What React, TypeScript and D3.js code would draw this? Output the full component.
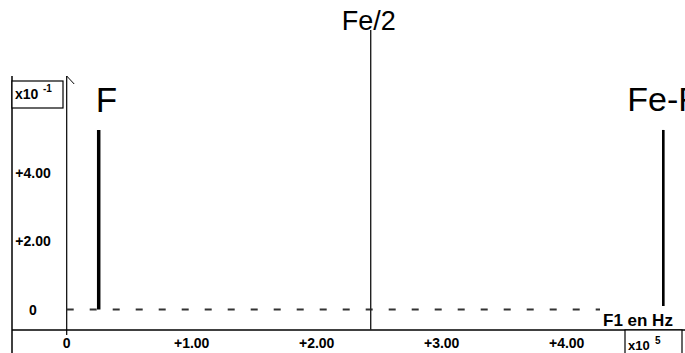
import React, { useRef, useEffect } from 'react';
import * as d3 from 'd3';

// spectre: raies F et Fe-F, repere Fe/2
const xTicks = [0, 1, 2, 3, 4];
const xTickLabels = ['0', '+1.00', '+2.00', '+3.00', '+4.00'];
const yTicks = [0, 2, 4];
const yTickLabels = ['0', '+2.00', '+4.00'];
const rayNames = ['F', 'Fe-F'];
const rayFreqs = [0.256, 4.773];
const rayAmps = [5.25, 5.25];
const halfFe = 2.432;

const App = () => {
  const ref = useRef<SVGSVGElement>(null);

  useEffect(() => {
    const width = 685;
    const height = 353;
    const font = '"Liberation Sans", Arial, sans-serif';

    const x = d3.scaleLinear().domain([0, 4]).range([66.7, 566.7]);
    const y = d3.scaleLinear().domain([0, 4]).range([309.5, 172.7]);

    const svg = d3.select(ref.current);
    svg.selectAll('*').remove();
    svg.attr('width', width).attr('height', height);

    svg.append('rect').attr('width', width).attr('height', height).attr('fill', '#fff');

    // cadre gauche + axe horizontal
    svg.append('line')
      .attr('x1', 12).attr('x2', 12).attr('y1', 76).attr('y2', height)
      .attr('stroke', '#000').attr('stroke-width', 1.5);
    svg.append('line')
      .attr('x1', 12).attr('x2', width).attr('y1', 330).attr('y2', 330)
      .attr('stroke', '#000').attr('stroke-width', 1.5);

    // axe vertical avec fleche
    svg.append('line')
      .attr('x1', x(0)).attr('x2', x(0)).attr('y1', 76).attr('y2', 335)
      .attr('stroke', '#000').attr('stroke-width', 1.2);
    svg.append('line')
      .attr('x1', x(0)).attr('x2', x(0) + 7.5).attr('y1', 76).attr('y2', 84)
      .attr('stroke', '#000').attr('stroke-width', 1);

    // ligne du zero en tirets
    svg.append('line')
      .attr('x1', x(0)).attr('x2', 678).attr('y1', y(0)).attr('y2', y(0))
      .attr('stroke', '#333').attr('stroke-width', 1.8)
      .attr('stroke-dasharray', '7,16');

    // graduations Y
    svg.append('g')
      .selectAll('text')
      .data(yTicks)
      .join('text')
      .attr('x', 33)
      .attr('y', d => y(d) + 5)
      .attr('text-anchor', 'middle')
      .attr('font-family', font)
      .attr('font-weight', 'bold')
      .attr('font-size', 14)
      .text((d, i) => yTickLabels[i]);

    // graduations X
    svg.append('g')
      .selectAll('text')
      .data(xTicks)
      .join('text')
      .attr('x', d => x(d))
      .attr('y', 348)
      .attr('text-anchor', 'middle')
      .attr('font-family', font)
      .attr('font-weight', 'bold')
      .attr('font-size', 14)
      .text((d, i) => xTickLabels[i]);

    // boite x10^-1
    svg.append('rect')
      .attr('x', 12).attr('y', 81).attr('width', 51).attr('height', 27)
      .attr('fill', '#fff').attr('stroke', '#000').attr('stroke-width', 1.2);
    const t1 = svg.append('text')
      .attr('x', 15).attr('y', 99)
      .attr('font-family', font).attr('font-weight', 'bold').attr('font-size', 14);
    t1.append('tspan').text('x10');
    t1.append('tspan').attr('x', 43).attr('y', 92).attr('font-size', 10).text('-1');

    // Fe/2
    svg.append('line')
      .attr('x1', x(halfFe)).attr('x2', x(halfFe)).attr('y1', 30).attr('y2', 330)
      .attr('stroke', '#222').attr('stroke-width', 1.4);
    svg.append('text')
      .attr('x', x(halfFe) - 2).attr('y', 30)
      .attr('text-anchor', 'middle')
      .attr('font-family', font).attr('font-size', 27)
      .text('Fe/2');

    // raies
    svg.append('g')
      .selectAll('line')
      .data(rayFreqs)
      .join('line')
      .attr('x1', d => x(d)).attr('x2', d => x(d))
      .attr('y1', y(0))
      .attr('y2', (d, i) => y(rayAmps[i]))
      .attr('stroke', '#000')
      .attr('stroke-width', (d, i) => (i === 0 ? 3.5 : 2.6));

    // labels des raies (Fe-F deborde du cadre comme sur l'original)
    svg.append('g')
      .selectAll('text')
      .data(rayFreqs)
      .join('text')
      .attr('x', (d, i) => (i === 0 ? x(d) - 3 : x(d) - 36))
      .attr('y', (d, i) => (i === 0 ? 112 : 111))
      .attr('font-family', font)
      .attr('font-size', (d, i) => (i === 0 ? 35 : 34))
      .text((d, i) => rayNames[i]);

    // label axe X
    svg.append('rect')
      .attr('x', 600).attr('y', 306).attr('width', 78).attr('height', 22)
      .attr('fill', '#fff');
    svg.append('text')
      .attr('x', 603).attr('y', 326)
      .attr('font-family', font).attr('font-weight', 'bold').attr('font-size', 17)
      .text('F1 en Hz');

    // boite x10^5
    svg.append('rect')
      .attr('x', 625).attr('y', 330).attr('width', 57).attr('height', 25)
      .attr('fill', '#fff').attr('stroke', '#000').attr('stroke-width', 1.2);
    const t2 = svg.append('text')
      .attr('x', 628).attr('y', 350)
      .attr('font-family', font).attr('font-weight', 'bold').attr('font-size', 13);
    t2.append('tspan').text('x10');
    t2.append('tspan').attr('x', 655).attr('y', 344).attr('font-size', 10).text('5');
  }, []);

  return (
    <svg ref={ref} style={{ position: 'absolute', left: 0, top: 0, display: 'block' }} />
  );
};

export default App;
